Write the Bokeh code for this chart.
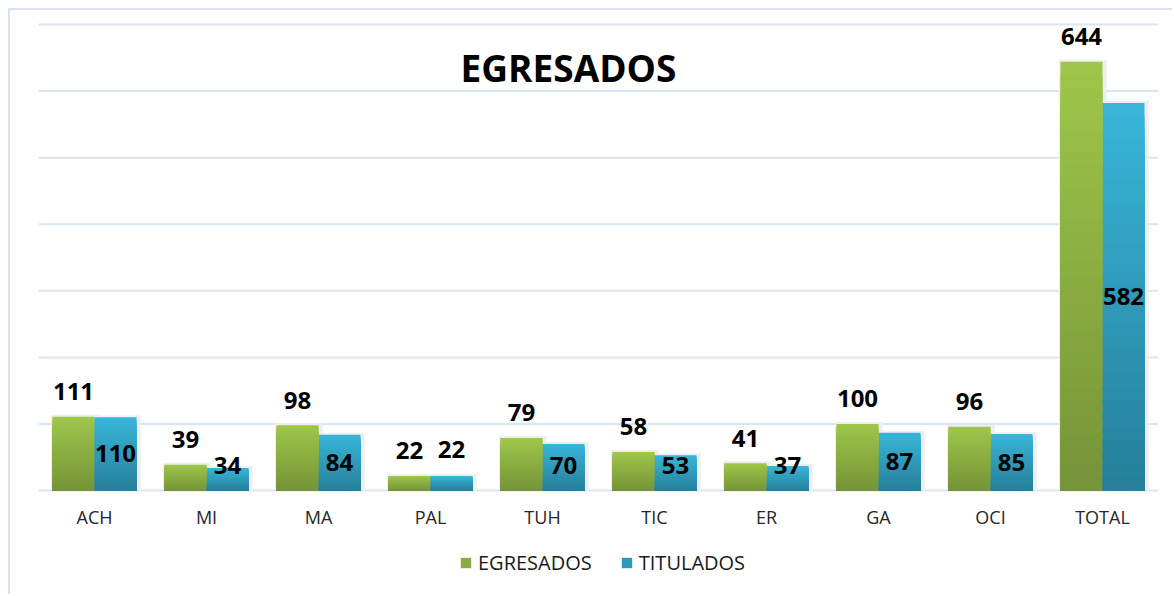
from bokeh.plotting import figure
from bokeh.models import (ColumnDataSource, Label, Legend, LegendItem,
                          Range1d, FactorRange)
from bokeh.transform import dodge
from bokeh.core.properties import value
from bokeh.embed import file_html
from bokeh.resources import INLINE

categories = ["ACH", "MI", "MA", "PAL", "TUH", "TIC", "ER", "GA", "OCI", "TOTAL"]
egresados = [111, 39, 98, 22, 79, 58, 41, 100, 96, 644]
titulados = [110, 34, 84, 22, 70, 53, 37, 87, 85, 582]
grid_values = [0, 100, 200, 300, 400, 500, 600, 700]
series_names = ["EGRESADOS", "TITULADOS"]
title_text = "EGRESADOS"

FONT = "Open Sans"
GREEN_TOP, GREEN_BOT = (158, 198, 74), (118, 148, 56)
BLUE_TOP, BLUE_BOT = (56, 181, 216), (38, 128, 155)
BAR_W = 0.375
N = 30
Y_MAX, Y_MIN = 703, -159   # lower part of the frame holds the category labels + legend


def lerp(c1, c2, t):
    return "#%02x%02x%02x" % tuple(int(round(a + (b - a) * t)) for a, b in zip(c1, c2))


# label positions (styling rule, derived from the data)
e_lbl_y = [v + 38 for v in egresados]
t_lbl_y = [v + 40 if v < 30 else max(v / 2, 38) for v in titulados]

data = dict(cat=categories, e=egresados, t=titulados,
            e_txt=[str(v) for v in egresados], t_txt=[str(v) for v in titulados],
            e_ly=e_lbl_y, t_ly=t_lbl_y,
            e_sh=[v + 3 for v in egresados], t_sh=[v + 3 for v in titulados],
            cat_ly=[-40] * len(categories))
for k in range(N):
    f = 1 - k / N
    data[f"e{k}"] = [v * f for v in egresados]
    data[f"t{k}"] = [v * f for v in titulados]
src = ColumnDataSource(data)

grid_src = ColumnDataSource(dict(y=grid_values,
                                 c0=[categories[0]] * len(grid_values),
                                 c1=[categories[-1]] * len(grid_values)))

p = figure(x_range=FactorRange(factors=categories), y_range=Range1d(Y_MIN, Y_MAX),
           width=1164, height=586, output_backend="svg", toolbar_location=None,
           min_border_left=28, min_border_right=16, min_border_top=12,
           min_border_bottom=0)
p.styles = {"border-left": "2px solid #D7E3F2", "border-top": "2px solid #D7E3F2",
            "margin-left": "8px", "margin-top": "8px"}

p.outline_line_color = None
p.xaxis.visible = False
p.yaxis.visible = False
p.xgrid.grid_line_color = None
p.ygrid.grid_line_color = None

# horizontal gridlines spanning the category area
p.segment(x0=dodge("c0", -0.5, range=p.x_range), x1=dodge("c1", 0.5, range=p.x_range),
          y0="y", y1="y", source=grid_src, line_color="#D9E5F2", line_width=2)

# shadows
p.vbar(x=dodge("cat", -BAR_W / 2 + 0.012, range=p.x_range), top="e_sh",
       width=BAR_W + 0.05, source=src, fill_color="#EEEEEE", line_color=None)
p.vbar(x=dodge("cat", BAR_W / 2 + 0.012, range=p.x_range), top="t_sh",
       width=BAR_W + 0.05, source=src, fill_color="#EEEEEE", line_color=None)

e_rs, t_rs = [], []
for k in range(N):
    t = k / (N - 1)
    e_rs.append(p.vbar(x=dodge("cat", -BAR_W / 2, range=p.x_range), top=f"e{k}",
                       width=BAR_W, source=src, fill_color=lerp(GREEN_TOP, GREEN_BOT, t),
                       line_color=None))
    t_rs.append(p.vbar(x=dodge("cat", BAR_W / 2, range=p.x_range), top=f"t{k}",
                       width=BAR_W, source=src, fill_color=lerp(BLUE_TOP, BLUE_BOT, t),
                       line_color=None))

p.text(x=dodge("cat", -BAR_W / 2, range=p.x_range), y="e_ly", text="e_txt", source=src,
       text_font=value(FONT), text_font_size="24px", text_font_style="bold",
       text_color="#000000", text_align="center", text_baseline="middle")
p.text(x=dodge("cat", BAR_W / 2, range=p.x_range), y="t_ly", text="t_txt", source=src,
       text_font=value(FONT), text_font_size="24px", text_font_style="bold",
       text_color="#000000", text_align="center", text_baseline="middle")

# category labels
p.text(x="cat", y="cat_ly", text="cat", source=src,
       text_font=value(FONT), text_font_size="18px", text_color="#262626",
       text_align="center", text_baseline="middle")

p.add_layout(Label(x=530, y=529, x_units="screen", y_units="screen", text=title_text,
                   text_font=FONT, text_font_size="37px", text_font_style="bold",
                   text_color="#000000", text_align="center", text_baseline="middle"))

legend = Legend(items=[LegendItem(label=series_names[0], renderers=[e_rs[N // 2]]),
                       LegendItem(label=series_names[1], renderers=[t_rs[N // 2]])],
                location=(421, 20), orientation="horizontal",
                glyph_width=13, glyph_height=13, label_standoff=6, spacing=28,
                padding=0, margin=0, border_line_color=None, background_fill_alpha=0,
                label_text_font=FONT, label_text_font_size="20px",
                label_text_color="#1a1a1a")
p.add_layout(legend)

open("out.html", "w").write(file_html(p, INLINE))
